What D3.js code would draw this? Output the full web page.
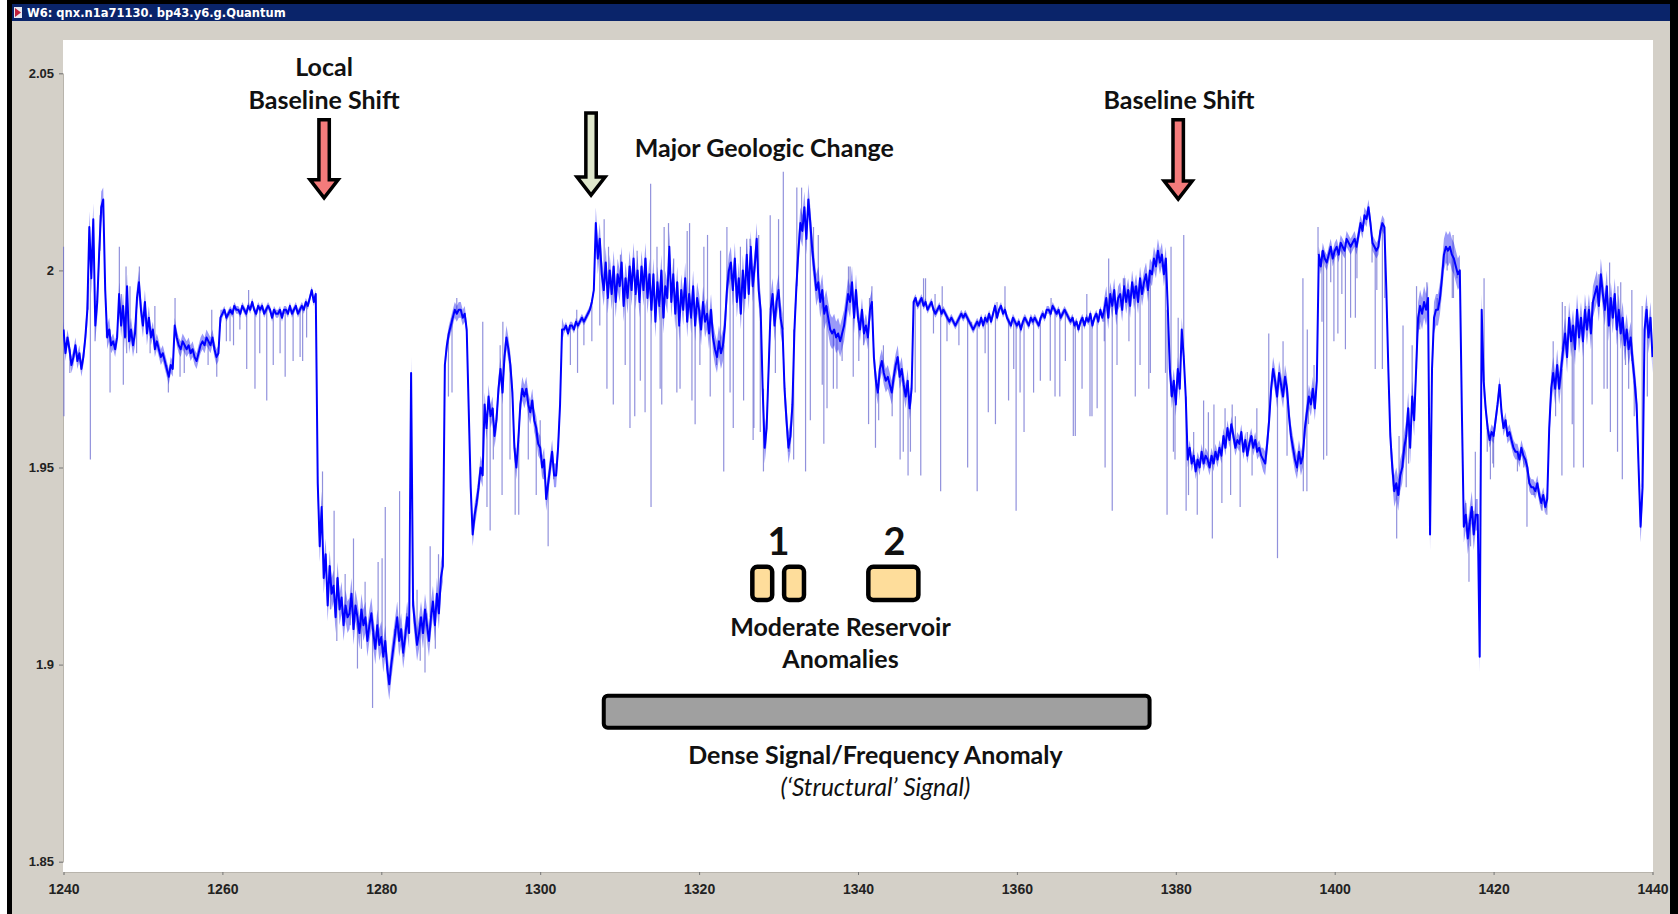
<!DOCTYPE html>
<html>
<head>
<meta charset="utf-8">
<script src="https://cdn.jsdelivr.net/npm/d3@7"></script>
<style>
  html, body { margin: 0; padding: 0; background: #ffffff; }
  svg { display: block; }
</style>
</head>
<body>
<svg id="chart" width="1678" height="914"></svg>
<script>
// ---- log data -------------------------------------------------------------
// Density log sampled every 0.25 depth units starting at 1240.
const depthStart = 1240;
const depthStep = 0.25;
const densityTrace = [
  1.985,1.979,1.983,1.980, 1.976,1.978,1.981,1.977, 1.979,1.975,1.978,1.983, 1.990,2.011,1.998,2.013, 1.986,1.992,2.005,2.016,
  2.018,1.995,1.983,1.985, 1.981,1.982,1.980,1.983, 1.994,1.986,1.991,1.983, 1.996,1.982,1.985,1.981, 1.984,1.993,1.997,1.990,
  1.986,1.992,1.984,1.988, 1.983,1.985,1.980,1.982, 1.980,1.978,1.979,1.977, 1.975,1.973,1.976,1.975, 1.986,1.983,1.981,1.980,
  1.982,1.981,1.980,1.981, 1.979,1.980,1.978,1.977, 1.979,1.981,1.982,1.981, 1.983,1.982,1.981,1.983, 1.980,1.978,1.979,1.988,
  1.989,1.990,1.988,1.989, 1.990,1.989,1.991,1.990, 1.990,1.989,1.991,1.990, 1.989,1.991,1.990,1.992, 1.990,1.989,1.991,1.990,
  1.991,1.989,1.990,1.991, 1.990,1.988,1.990,1.989, 1.989,1.990,1.988,1.990, 1.990,1.989,1.991,1.989, 1.990,1.991,1.989,1.990,
  1.991,1.990,1.992,1.991, 1.993,1.995,1.992,1.994, 1.946,1.930,1.940,1.922, 1.928,1.915,1.925,1.918, 1.920,1.912,1.922,1.914,
  1.917,1.910,1.915,1.912, 1.913,1.918,1.909,1.915, 1.912,1.908,1.914,1.910, 1.912,1.906,1.910,1.913, 1.908,1.904,1.910,1.905,
  1.907,1.902,1.906,1.899, 1.895,1.900,1.904,1.908, 1.912,1.906,1.909,1.903, 1.907,1.912,1.908,1.974, 1.915,1.910,1.905,1.908,
  1.912,1.908,1.914,1.910, 1.906,1.912,1.916,1.910, 1.918,1.913,1.922,1.925, 1.976,1.981,1.984,1.986, 1.988,1.990,1.989,1.990,
  1.990,1.988,1.989,1.985, 1.965,1.945,1.933,1.938, 1.941,1.945,1.950,1.948, 1.966,1.960,1.968,1.963, 1.965,1.958,1.962,1.970,
  1.975,1.969,1.978,1.983, 1.980,1.976,1.969,1.955, 1.950,1.957,1.966,1.970, 1.968,1.970,1.966,1.964, 1.967,1.962,1.960,1.956,
  1.955,1.950,1.952,1.942, 1.946,1.950,1.954,1.948, 1.948,1.955,1.966,1.985, 1.985,1.986,1.984,1.986, 1.986,1.985,1.987,1.986,
  1.987,1.988,1.987,1.988, 1.989,1.990,1.992,1.995, 2.012,2.003,2.008,1.999, 1.995,2.002,1.993,2.000, 1.994,2.001,1.992,1.999,
  1.996,2.002,1.991,1.998, 1.993,2.001,1.995,2.003, 1.994,2.000,1.992,2.001, 1.995,2.003,1.993,1.999, 1.990,1.999,1.987,1.997,
  1.991,2.000,1.988,1.996, 1.993,2.006,1.992,1.999, 1.989,1.997,1.986,1.995, 1.990,1.998,1.987,1.994, 1.988,1.996,1.986,1.993,
  1.990,1.985,1.992,1.987, 1.989,1.984,1.990,1.983, 1.980,1.978,1.982,1.979, 1.981,1.986,1.995,2.000, 2.002,1.995,2.003,1.992,
  1.998,1.989,2.000,1.993, 2.004,1.994,2.006,1.996, 2.001,2.008,1.995,1.990, 1.970,1.955,1.960,1.975, 1.990,1.994,1.986,1.992,
  1.995,1.988,1.985,1.970, 1.962,1.955,1.958,1.966, 1.985,1.996,2.005,2.012, 2.010,2.016,2.008,2.018, 2.012,2.005,2.000,1.995,
  1.997,1.992,1.995,1.989, 1.991,1.988,1.985,1.984, 1.985,1.983,1.984,1.982, 1.984,1.986,1.990,1.994, 1.992,1.997,1.988,1.995,
  1.988,1.985,1.990,1.984, 1.986,1.983,1.990,1.992, 1.978,1.972,1.969,1.975, 1.977,1.974,1.972,1.973, 1.971,1.969,1.973,1.976,
  1.978,1.973,1.975,1.971, 1.968,1.972,1.965,1.970, 1.992,1.993,1.991,1.992, 1.993,1.991,1.992,1.990, 1.991,1.992,1.990,1.989,
  1.990,1.991,1.989,1.990, 1.989,1.988,1.987,1.988, 1.987,1.986,1.987,1.988, 1.989,1.988,1.989,1.988, 1.987,1.986,1.985,1.986,
  1.987,1.986,1.988,1.986, 1.988,1.987,1.989,1.987, 1.989,1.991,1.988,1.990, 1.991,1.989,1.990,1.988, 1.987,1.986,1.988,1.987,
  1.986,1.987,1.985,1.987, 1.988,1.987,1.986,1.988, 1.987,1.988,1.987,1.986, 1.988,1.989,1.988,1.990, 1.990,1.989,1.991,1.990,
  1.989,1.990,1.988,1.989, 1.990,1.989,1.988,1.987, 1.988,1.986,1.987,1.985, 1.987,1.988,1.986,1.988, 1.987,1.989,1.986,1.988,
  1.989,1.987,1.990,1.988, 1.990,1.993,1.988,1.994, 1.991,1.995,1.989,1.993, 1.994,1.990,1.996,1.992, 1.995,1.991,1.997,1.993,
  1.996,1.992,1.998,1.994, 1.997,1.999,1.995,2.000, 1.999,2.003,2.001,2.005, 2.002,2.004,1.999,2.003, 1.990,1.975,1.968,1.972,
  1.966,1.975,1.970,1.985, 1.978,1.968,1.952,1.955, 1.951,1.953,1.949,1.952, 1.950,1.954,1.951,1.953, 1.952,1.950,1.953,1.951,
  1.954,1.952,1.955,1.953, 1.958,1.955,1.960,1.957, 1.961,1.958,1.955,1.957, 1.956,1.959,1.954,1.957, 1.953,1.956,1.958,1.955,
  1.957,1.954,1.955,1.953, 1.952,1.951,1.956,1.962, 1.970,1.975,1.972,1.968, 1.974,1.971,1.968,1.973, 1.970,1.963,1.958,1.955,
  1.952,1.950,1.954,1.951, 1.953,1.960,1.964,1.968, 1.966,1.970,1.965,1.972, 2.004,2.001,2.005,2.003, 2.002,2.004,2.006,2.003,
  2.005,2.006,2.004,2.007, 2.006,2.005,2.008,2.007, 2.006,2.007,2.008,2.006, 2.009,2.012,2.010,2.014, 2.013,2.016,2.012,2.007,
  2.006,2.005,2.006,2.010, 2.012,2.011,1.995,1.975, 1.958,1.950,1.944,1.946, 1.943,1.948,1.950,1.955, 1.958,1.965,1.955,1.968,
  1.962,1.975,1.988,1.991, 1.989,1.992,1.990,1.993, 1.933,1.975,1.988,1.990, 1.990,1.993,1.998,2.004, 2.006,2.005,2.006,2.004,
  2.003,2.001,1.999,2.000, 1.965,1.935,1.938,1.932, 1.936,1.940,1.933,1.938, 1.938,1.902,1.990,1.972, 1.965,1.960,1.957,1.959,
  1.958,1.962,1.966,1.971, 1.964,1.960,1.962,1.958, 1.959,1.957,1.955,1.954, 1.954,1.952,1.955,1.953, 1.952,1.950,1.946,1.945,
  1.945,1.944,1.946,1.943, 1.941,1.943,1.940,1.942, 1.960,1.970,1.974,1.970, 1.976,1.970,1.975,1.980, 1.984,1.978,1.988,1.982,
  1.986,1.980,1.990,1.983, 1.988,1.982,1.990,1.985, 1.990,1.984,1.992,1.994, 1.996,1.991,1.999,1.994, 1.990,1.996,1.986,1.993,
  1.988,1.994,1.985,1.990, 1.984,1.988,1.981,1.985, 1.980,1.983,1.977,1.972, 1.966,1.950,1.935,1.945, 1.985,1.990,1.983,1.988,
  1.978
];

// Half-height of the fine-scale scatter around the log, one value per depth unit (1240 ... 1440)
const traceScatter = [
  0.002,0.002,0.002, 0.004,0.004,0.003,
  0.002, 0.003,0.003,0.003,0.003, 0.002,0.002,0.002,0.002,0.002,0.002,0.002,0.002,0.002,
  0.001,0.001,0.001,0.001,0.001,0.001,0.001,0.001,0.001,0.001,0.001,0.001,
  0.004,0.004,0.004,0.004,0.004,0.004,0.004,0.004,0.004,0.004,0.004,0.004,0.004,0.004,0.004,0.004,
  0.002,0.002, 0.002,
  0.003,0.003,0.003,0.003,0.003,0.003,0.003,0.003,0.003,0.003,0.003,0.003,
  0.001,0.001,0.001,0.001,
  0.004,0.004,0.004,0.004,0.004,0.004,0.004,0.004,0.004,0.004,0.004,0.004,0.004,0.004,0.004,0.004,0.004,
  0.004,0.004,0.004,0.004,0.004,0.004,0.004,0.004,0.004,0.004,0.004,0.004,0.004,0.004,0.004,0.004,
  0.003,0.003,0.003,0.003,0.003,0.003,0.003,
  0.001,0.001,0.001,0.001,0.001,0.001,0.001,0.001,0.001,0.001,0.001,0.001,
  0.001,0.001,0.001,0.001,0.001,0.001,0.001,0.001,0.001,0.001,0.001,0.001,
  0.003,0.003,0.003,0.003,0.003,0.003,0.003,0.003,0.003,0.003,
  0.002,0.002,0.002,0.002,0.002,0.002,0.002,0.002,0.002,0.002,
  0.003,0.003,0.003,0.003,0.003,0.003,0.003,
  0.002,0.002,0.002,0.002,0.002,0.002,0.002,0.002,0.002,
  0.004,0.004,0.004,0.004,0.004,0.004,0.004,0.004,0.004,0.004,0.004,0.004,
  0.002,0.002,0.002,0.002,0.002,0.002,0.002,0.002,
  0.004,0.004,0.004,0.004,0.004,0.004,0.004,0.004,0.004,0.004,0.004,0.004,0.004,0.004
];

// Single-sample excursions of the log: [depth, value]
const spikes = [
  // 1240 - 1272
  [1240.0,2.006],[1240.05,1.963],[1240.8,1.974],[1243.1,1.996],[1243.38,1.952],[1243.97,1.982],[1244.6,2.014],
  [1245.4,1.987],[1245.86,1.969],[1247.03,2.006],[1247.3,1.994],[1247.53,1.971],[1247.87,2.001],[1247.95,1.979],
  [1248.37,1.996],[1249.2,1.979],[1249.55,2.001],[1250.26,1.992],[1250.9,1.979],[1251.5,1.991],[1251.9,1.980],
  [1253.0,1.976],[1253.2,1.969],[1254.04,1.993],[1254.67,1.973],[1255.2,1.974],[1256.1,1.980],[1258.2,1.976],
  [1258.66,1.990],[1259.29,1.973],[1260.5,1.982],[1260.96,1.982],[1261.4,1.981],[1262.2,1.985],[1263.06,1.975],
  [1263.3,1.995],[1264.1,1.970],[1264.7,1.979],[1265.58,1.967],[1266.4,1.976],[1267.26,1.979],[1267.9,1.973],
  [1268.9,1.977],[1269.78,1.978],[1270.1,1.977],[1270.6,1.983],
  // 1272 - 1290
  [1272.6,1.949],[1273.6,1.914],[1274.06,1.939],[1274.4,1.906],[1275.45,1.923],[1276.1,1.910],[1276.5,1.932],
  [1277.0,1.899],[1277.5,1.904],[1277.96,1.921],[1278.9,1.889],[1279.2,1.905],[1279.6,1.926],[1280.1,1.927],
  [1280.5,1.940],[1281.7,1.909],[1282.3,1.944],[1282.8,1.902],[1283.2,1.913],[1284.5,1.919],[1284.9,1.901],
  [1285.5,1.898],[1285.7,1.913],[1286.15,1.930],[1286.8,1.904],[1287.2,1.928],[1288.45,1.968],[1288.9,1.969],
  [1289.5,1.993],
  // 1290 - 1307
  [1292.77,1.987],[1293.3,1.940],[1293.7,1.934],[1294.1,1.952],[1294.96,1.981],[1295.2,1.943],[1295.3,1.987],
  [1296.2,1.952],[1296.85,1.938],[1297.3,1.938],[1298.3,1.970],[1298.5,1.952],[1299.5,1.943],[1300.0,1.962],
  [1300.4,1.947],[1301.0,1.930],[1301.7,1.947],[1303.8,1.976],[1304.6,1.990],[1304.7,1.974],[1305.5,1.981],
  [1306.5,1.982],
  // 1307 - 1340
  [1307.5,1.986],[1308.05,2.013],[1308.4,1.970],[1308.6,2.006],[1309.2,1.966],[1310.1,2.004],[1310.7,1.976],
  [1311.3,1.960],[1311.9,1.963],[1312.2,2.005],[1312.6,1.972],[1313.2,1.964],[1313.9,2.022],[1313.95,1.940],
  [1314.7,2.006],[1315.1,1.970],[1315.3,1.966],[1315.6,2.011],[1316.15,2.012],[1316.8,2.003],[1317.2,1.969],
  [1317.6,1.970],[1318.5,2.010],[1318.8,2.012],[1319.1,1.967],[1319.5,1.961],[1320.1,1.976],[1320.6,2.006],
  [1321.06,2.009],[1321.4,1.968],[1322.2,1.976],[1322.7,2.005],[1323.1,1.949],[1323.5,2.011],[1323.9,1.969],
  [1324.3,1.960],[1325.2,2.006],[1325.6,1.967],[1326.0,2.008],[1326.4,2.008],[1326.8,1.957],[1326.9,1.960],
  [1327.5,2.009],[1327.7,1.959],[1328.1,1.949],[1328.95,2.014],[1329.6,1.974],[1330.0,2.013],[1330.6,2.025],
  [1331.3,1.954],[1331.9,1.952],[1332.3,2.021],[1332.9,2.021],[1333.4,1.949],[1334.0,1.962],[1334.4,2.011],
  [1335.0,2.009],[1335.5,1.971],[1335.7,1.956],[1336.1,1.965],[1336.9,1.970],[1337.35,1.970],[1338.0,1.977],
  [1338.8,2.001],[1339.0,2.001],[1339.4,1.973],[1340.1,1.977],
  // 1340 - 1390
  [1340.7,1.981],[1341.33,1.961],[1341.45,1.993],[1341.75,1.996],[1342.2,1.955],[1342.6,1.962],[1343.2,1.981],
  [1344.3,1.963],[1344.9,1.976],[1345.3,1.952],[1345.7,1.954],[1346.3,1.948],[1346.6,1.954],[1347.2,1.969],
  [1347.9,1.948],[1348.25,1.998],[1348.5,1.998],[1349.5,1.984],[1349.7,1.994],[1350.4,1.944],[1350.6,1.996],
  [1351.2,1.982],[1352.7,1.981],[1353.8,1.950],[1354.3,1.987],[1355.0,1.944],[1356.0,1.979],[1356.4,1.964],
  [1357.3,1.961],[1357.5,1.992],[1358.5,1.996],[1358.95,1.967],[1359.6,1.975],[1359.9,1.939],[1360.4,1.969],
  [1360.9,1.959],[1362.1,1.969],[1362.95,1.972],[1364.2,1.972],[1364.3,1.993],[1364.8,1.968],[1365.4,1.968],
  [1366.1,1.977],[1367.1,1.958],[1367.35,1.958],[1368.2,1.970],[1368.8,1.994],[1369.2,1.963],[1369.45,1.963],
  [1370.1,1.965],[1371.0,1.982],[1371.1,1.950],[1371.55,2.003],[1372.0,1.939],[1372.6,1.976],[1373.4,1.998],
  [1373.6,1.998],[1374.1,1.982],[1374.7,1.996],[1374.9,1.968],[1375.5,1.976],[1376.2,1.998],[1376.6,1.970],
  [1376.8,1.974],[1377.55,2.004],[1378.3,2.001],[1378.7,1.974],[1378.9,1.938],[1379.4,2.006],[1379.7,1.954],
  [1379.9,1.952],[1380.3,1.988],[1381.0,2.009],[1381.3,1.939],[1381.6,1.943],[1382.25,1.959],[1382.7,1.938],
  [1383.5,1.967],[1384.1,1.964],[1384.6,1.932],[1384.8,1.966],[1385.8,1.941],[1386.2,1.965],[1386.9,1.943],
  [1387.1,1.966],[1387.5,1.963],[1388.1,1.940],[1389.0,1.959],[1389.6,1.948],[1390.2,1.965],
  // 1390 - 1440
  [1391.7,1.984],[1392.8,1.927],[1393.5,1.982],[1394.0,1.953],[1395.3,1.949],[1396.0,1.998],[1396.05,1.944],
  [1396.5,1.944],[1396.55,1.985],[1396.7,1.961],[1397.4,1.976],[1397.9,2.011],[1398.4,1.987],[1398.6,1.952],
  [1399.0,1.953],[1399.5,1.997],[1399.9,1.982],[1400.4,1.984],[1400.9,1.994],[1401.35,1.980],[1402.0,1.988],
  [1402.6,1.988],[1402.8,1.998],[1404.7,2.002],[1405.1,1.975],[1405.3,1.995],[1406.0,1.975],[1406.3,1.993],
  [1407.4,1.946],[1407.8,1.932],[1408.1,1.958],[1408.6,1.986],[1409.0,1.945],[1409.3,1.951],[1409.75,1.981],
  [1410.3,1.996],[1410.7,1.985],[1411.2,1.992],[1411.6,1.997],[1412.5,1.985],[1412.9,1.993],[1414.15,2.000],
  [1414.8,1.993],[1414.9,2.009],[1414.95,1.993],[1415.4,1.998],[1416.5,1.941],[1416.9,1.921],[1417.1,1.930],
  [1417.5,1.939],[1417.7,1.954],[1418.8,1.998],[1419.2,1.954],[1419.6,1.947],[1419.9,1.951],[1420.0,1.950],
  [1421.5,1.960],[1423.0,1.949],[1423.8,1.950],[1424.2,1.935],[1425.1,1.943],[1426.1,1.939],[1426.7,1.938],
  [1427.5,1.982],[1427.8,1.963],[1428.2,1.970],[1428.6,1.948],[1428.65,1.992],[1429.0,1.991],[1429.5,1.987],
  [1429.9,1.961],[1430.1,1.950],[1430.7,1.987],[1431.3,1.950],[1431.6,1.991],[1432.0,1.991],[1432.4,1.966],
  [1433.0,1.995],[1433.25,1.999],[1433.9,1.970],[1434.3,1.970],[1434.6,2.002],[1434.7,1.959],[1435.1,1.993],
  [1435.6,1.954],[1435.65,1.996],[1436.0,1.997],[1436.2,1.947],[1436.6,1.976],[1437.0,1.970],[1437.4,1.995],
  [1437.7,1.963],[1438.7,1.991],[1439.3,1.991],[1439.35,1.968],[1439.5,1.983]
];

const xTicks = [1240, 1260, 1280, 1300, 1320, 1340, 1360, 1380, 1400, 1420, 1440];
const yTicks = [1.85, 1.9, 1.95, 2, 2.05];
const windowTitle = "W6: qnx.n1a71130. bp43.y6.g.Quantum";

// Interpretation overlays, anchored in depth / value units
const shiftArrows = [
  { depth: 1272.8, top: 2.0382, tip: 2.0184, fill: "#f47b7b" },
  { depth: 1306.4, top: 2.0399, tip: 2.0191, fill: "#dfe7cc" },
  { depth: 1380.3, top: 2.0382, tip: 2.0181, fill: "#f47b7b" }
];
const headings = [
  { text: "Local",                 depth: 1272.8, value: 2.0519 },
  { text: "Baseline Shift",        depth: 1272.8, value: 2.0436 },
  { text: "Major Geologic Change", depth: 1328.2, value: 2.0314 },
  { text: "Baseline Shift",        depth: 1380.4, value: 2.0436 }
];
const anomalyZones = [
  { from: 1326.7, to: 1329.2 },
  { from: 1330.7, to: 1333.2 },
  { from: 1341.3, to: 1347.6 }
];
const anomalyNumbers = [
  { text: "1", depth: 1330.0 },
  { text: "2", depth: 1344.6 }
];
const structuralZone = { from: 1308.0, to: 1376.7 };

// ---- layout ---------------------------------------------------------------
const W = 1678, H = 914;
const plot = { left: 63, right: 1653, top: 40, bottom: 872 };

const x = d3.scaleLinear().domain([1240, 1440]).range([63.5, 1652.5]);
const y = d3.scaleLinear().domain([1.85, 2.05]).range([861.7, 73.3]);

const svg = d3.select("#chart");

// window frame
svg.append("rect").attr("x", 7).attr("y", 0).attr("width", W - 7).attr("height", H).attr("fill", "#000");
svg.append("rect").attr("x", 12).attr("y", 21).attr("width", 1658).attr("height", H - 21).attr("fill", "#d4d0c8");
svg.append("rect").attr("x", 12).attr("y", 4).attr("width", 1658).attr("height", 17).attr("fill", "#0a246a");
// title-bar icon
svg.append("rect").attr("x", 14).attr("y", 7).attr("width", 8).attr("height", 11).attr("fill", "#e8e8f0");
svg.append("path").attr("d", "M15,8 L21,12.5 L15,17 Z").attr("fill", "#c0203a");
svg.append("text")
  .attr("x", 27).attr("y", 16.5)
  .attr("fill", "#fff")
  .attr("font-family", "'DejaVu Sans', Verdana, sans-serif")
  .attr("font-weight", "bold").attr("font-size", 11.5)
  .text(windowTitle);

// plot area
svg.append("rect")
  .attr("x", plot.left).attr("y", plot.top)
  .attr("width", plot.right - plot.left).attr("height", plot.bottom - plot.top)
  .attr("fill", "#fff");

svg.append("clipPath").attr("id", "plotClip")
  .append("rect")
  .attr("x", plot.left).attr("y", plot.top)
  .attr("width", plot.right - plot.left).attr("height", plot.bottom - plot.top);

// axes
const axisFont = "'Liberation Sans', Arial, sans-serif";
const yAxis = svg.append("g")
  .attr("transform", `translate(${plot.left},0)`)
  .call(d3.axisLeft(y).tickValues(yTicks).tickFormat(d => String(d)).tickSizeOuter(0).tickSize(4).tickPadding(5));
const xAxis = svg.append("g")
  .attr("transform", `translate(0,${plot.bottom})`)
  .call(d3.axisBottom(x).tickValues(xTicks).tickFormat(d => String(d)).tickSizeOuter(0).tickSize(3).tickPadding(4));
[yAxis, xAxis].forEach(g => {
  g.select(".domain").attr("stroke", "#b8b4ac");
  g.selectAll(".tick line").attr("stroke", "#777");
  g.selectAll(".tick text")
    .attr("fill", "#222")
    .attr("font-family", axisFont)
    .attr("font-weight", "bold");
});
yAxis.selectAll(".tick text").attr("font-size", 13);
xAxis.selectAll(".tick text").attr("font-size", 14).attr("dy", "1.05em");

// log trace
const depthAt = i => depthStart + i * depthStep;
const scatterAt = i => traceScatter[Math.min(traceScatter.length - 1, Math.floor(depthAt(i) - depthStart))];
const traceLayer = svg.append("g").attr("clip-path", "url(#plotClip)");

traceLayer.selectAll("line.spike")
  .data(spikes)
  .join("line")
  .attr("class", "spike")
  .attr("x1", d => x(d[0])).attr("x2", d => x(d[0]))
  .attr("y1", d => y(densityTrace[Math.round((d[0] - depthStart) / depthStep)]))
  .attr("y2", d => y(d[1]))
  .attr("stroke", "#6c6cd0")
  .attr("stroke-opacity", 0.75)
  .attr("stroke-width", 1.2);

// fine-scale scatter band around the log
const scatterArea = d3.area()
  .x((d, i) => x(depthAt(i)))
  .y0((d, i) => y(d - scatterAt(i)))
  .y1((d, i) => y(d + scatterAt(i)));

traceLayer.append("path")
  .datum(densityTrace)
  .attr("d", scatterArea)
  .attr("fill", "#2020f0")
  .attr("fill-opacity", 0.45);

const line = d3.line()
  .x((d, i) => x(depthAt(i)))
  .y(d => y(d));

traceLayer.append("path")
  .datum(densityTrace)
  .attr("d", line)
  .attr("fill", "none")
  .attr("stroke", "#0000ff")
  .attr("stroke-width", 2.0)
  .attr("stroke-linejoin", "round");

// ---- interpretation overlays ---------------------------------------------
const annFont = "Lato, 'Noto Sans', sans-serif";
const ann = svg.append("g");

// down arrows
function arrowPath(cx, yTop, yTip) {
  const shaft = 5.2, head = 14, headLen = 18;
  const yNeck = yTip - headLen;
  return `M${cx - shaft},${yTop} L${cx + shaft},${yTop} L${cx + shaft},${yNeck} L${cx + head},${yNeck}
          L${cx},${yTip} L${cx - head},${yNeck} L${cx - shaft},${yNeck} Z`;
}
ann.selectAll("path.shift-arrow")
  .data(shiftArrows)
  .join("path")
  .attr("class", "shift-arrow")
  .attr("d", d => arrowPath(x(d.depth), y(d.top), y(d.tip)))
  .attr("fill", d => d.fill)
  .attr("stroke", "#000")
  .attr("stroke-width", 3.5)
  .attr("stroke-linejoin", "miter");

ann.selectAll("text.heading")
  .data(headings)
  .join("text")
  .attr("class", "heading")
  .attr("x", d => x(d.depth)).attr("y", d => y(d.value))
  .attr("text-anchor", "middle").attr("dominant-baseline", "central")
  .attr("font-family", annFont).attr("font-weight", "bold").attr("font-size", 25)
  .attr("fill", "#111")
  .text(d => d.text);

// reservoir anomaly boxes
const boxTop = 1.9248, boxBottom = 1.9164;
ann.selectAll("rect.anomaly")
  .data(anomalyZones)
  .join("rect")
  .attr("class", "anomaly")
  .attr("x", d => x(d.from)).attr("width", d => x(d.to) - x(d.from))
  .attr("y", y(boxTop)).attr("height", y(boxBottom) - y(boxTop))
  .attr("rx", 5)
  .attr("fill", "#fedd9b").attr("stroke", "#000").attr("stroke-width", 4.5);

ann.selectAll("text.anomaly-no")
  .data(anomalyNumbers)
  .join("text")
  .attr("class", "anomaly-no")
  .attr("x", d => x(d.depth)).attr("y", y(1.9316))
  .attr("text-anchor", "middle").attr("dominant-baseline", "central")
  .attr("font-family", annFont).attr("font-weight", "bold").attr("font-size", 38)
  .attr("fill", "#111")
  .text(d => d.text);

ann.append("text")
  .attr("x", x(1337.8)).attr("y", y(1.9098))
  .attr("text-anchor", "middle").attr("dominant-baseline", "central")
  .attr("font-family", annFont).attr("font-weight", "bold").attr("font-size", 25).attr("fill", "#111")
  .text("Moderate Reservoir");
ann.append("text")
  .attr("x", x(1337.8)).attr("y", y(1.9017))
  .attr("text-anchor", "middle").attr("dominant-baseline", "central")
  .attr("font-family", annFont).attr("font-weight", "bold").attr("font-size", 25).attr("fill", "#111")
  .text("Anomalies");

// structural signal bar
ann.append("rect")
  .attr("x", x(structuralZone.from)).attr("width", x(structuralZone.to) - x(structuralZone.from))
  .attr("y", y(1.8921)).attr("height", y(1.8840) - y(1.8921))
  .attr("rx", 4)
  .attr("fill", "#a0a0a0").attr("stroke", "#000").attr("stroke-width", 4);

ann.append("text")
  .attr("x", x(1342.2)).attr("y", y(1.8772))
  .attr("text-anchor", "middle").attr("dominant-baseline", "central")
  .attr("font-family", annFont).attr("font-weight", "bold").attr("font-size", 25).attr("fill", "#111")
  .text("Dense Signal/Frequency Anomaly");
ann.append("text")
  .attr("x", x(1342.2)).attr("y", y(1.8690))
  .attr("text-anchor", "middle").attr("dominant-baseline", "central")
  .attr("font-family", annFont).attr("font-style", "italic").attr("font-size", 24.5).attr("fill", "#111")
  .text("(\u2018Structural\u2019 Signal)");
</script>
</body>
</html>
